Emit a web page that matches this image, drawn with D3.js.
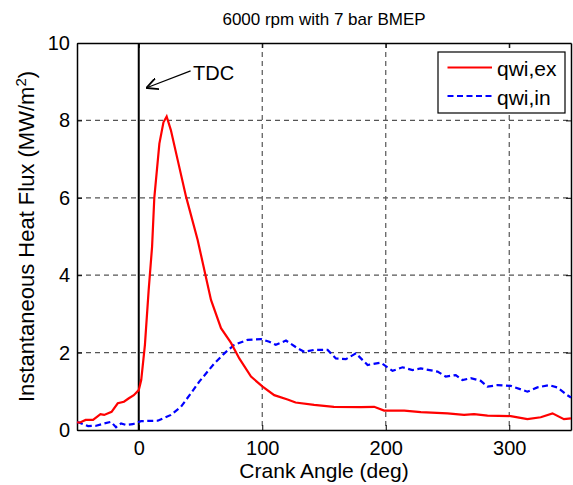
<!DOCTYPE html>
<html>
<head>
<meta charset="utf-8">
<script src="https://cdn.jsdelivr.net/npm/d3@7"></script>
<style>
  body { margin: 0; background: #fff; }
  .vis { width: 573px; height: 485px; }
  text { font-family: "Liberation Sans", Arial, Helvetica, sans-serif; fill: #000; }
</style>
</head>
<body>
<div class="vis"></div>
<script>
(function() {
  'use strict';

  // crank angle (deg) and heat flux (MW/m^2)
  var exAngle = [-50, -48, -43, -37, -31, -28, -22, -17, -12, -8, -4, 0, 2, 5, 8, 10.8, 12.6, 16.7, 20, 22.6, 26, 31.5, 38.3, 47.7, 58.5, 66.6, 74.7, 81.4, 90.9, 100.3, 109.7, 120.5, 127, 142, 158, 180, 190.6, 198.7, 215, 228.4, 250, 263.4, 271.5, 282.4, 301.2, 314.7, 325.5, 335, 344.3, 350];
  var exFlux = [0.2, 0.19, 0.26, 0.26, 0.41, 0.39, 0.47, 0.69, 0.73, 0.82, 0.9, 1.03, 1.29, 2.2, 3.6, 4.74, 6.0, 7.4, 7.95, 8.1, 7.75, 6.98, 6.03, 4.91, 3.36, 2.63, 2.25, 1.85, 1.38, 1.12, 0.9, 0.79, 0.71, 0.65, 0.6, 0.59, 0.6, 0.5, 0.5, 0.46, 0.43, 0.39, 0.41, 0.37, 0.36, 0.28, 0.33, 0.43, 0.28, 0.3];

  var inAngle = [-50, -48, -41, -34.5, -27.8, -22.4, -18.4, -14.3, -10.3, -4.9, 1.9, 15.4, 26.1, 34.2, 42.3, 49, 61.2, 69.3, 77.3, 88.2, 99, 105.7, 111, 119.2, 128.6, 134, 142, 152.9, 159.6, 167.7, 175.8, 185.3, 196, 205.5, 213.6, 221.7, 228.4, 241.9, 248.6, 256.7, 262.1, 268.8, 276.9, 282.4, 290.5, 301.2, 314.7, 322.8, 332.2, 339, 347, 350];
  var inFlux = [0.2, 0.19, 0.1, 0.11, 0.17, 0.21, 0.07, 0.17, 0.13, 0.15, 0.23, 0.24, 0.39, 0.6, 0.95, 1.25, 1.72, 1.98, 2.2, 2.33, 2.35, 2.28, 2.2, 2.31, 2.11, 2.02, 2.07, 2.07, 1.85, 1.83, 1.98, 1.68, 1.74, 1.53, 1.62, 1.55, 1.59, 1.51, 1.38, 1.42, 1.29, 1.34, 1.27, 1.12, 1.16, 1.14, 0.99, 1.1, 1.16, 1.1, 0.9, 0.84];

  var xTicks = [0, 100, 200, 300];
  var yTicks = [0, 2, 4, 6, 8, 10];
  var seriesNames = ['qwi,ex', 'qwi,in'];
  var tdcAngle = 0;

  var el = d3.select('.vis'),
    elWidth = 573,
    elHeight = 485,
    margin = {top: 43, right: 2, bottom: 55, left: 77},
    width = elWidth - margin.left - margin.right,
    height = elHeight - margin.top - margin.bottom;

  var svg = el.append('svg')
      .attr('width', elWidth)
      .attr('height', elHeight)
    .append('g')
      .attr('transform', 'translate(' + margin.left + ',' + margin.top + ')');

  var x = d3.scaleLinear().domain([-50, 350]).range([0, width]);
  var y = d3.scaleLinear().domain([0, 10]).range([height, 0]);

  // grid
  svg.selectAll('.gx')
    .data(xTicks.filter(function(d) { return d !== 0; }))
    .enter().append('line')
      .attr('x1', function(d) { return x(d); })
      .attr('x2', function(d) { return x(d); })
      .attr('y1', 0).attr('y2', height)
      .attr('stroke', '#555').attr('stroke-width', 1.2)
      .attr('stroke-dasharray', '5,4');
  svg.selectAll('.gy')
    .data(yTicks.filter(function(d) { return d !== 0 && d !== 10; }))
    .enter().append('line')
      .attr('x1', 0).attr('x2', width)
      .attr('y1', function(d) { return y(d); })
      .attr('y2', function(d) { return y(d); })
      .attr('stroke', '#555').attr('stroke-width', 1.2)
      .attr('stroke-dasharray', '5,4');

  // axes with inward ticks on all sides
  var fontSize = '20px';
  var bottom = svg.append('g').attr('transform', 'translate(0,' + height + ')')
    .call(d3.axisBottom(x).tickValues(xTicks).tickSizeInner(-5).tickSizeOuter(0).tickPadding(11));
  var left = svg.append('g')
    .call(d3.axisLeft(y).tickValues(yTicks).tickSizeInner(-5).tickSizeOuter(0).tickPadding(7));
  var top = svg.append('g')
    .call(d3.axisTop(x).tickValues(xTicks).tickSizeInner(-5).tickSizeOuter(0).tickFormat(''));
  var right = svg.append('g').attr('transform', 'translate(' + width + ',0)')
    .call(d3.axisRight(y).tickValues(yTicks).tickSizeInner(-5).tickSizeOuter(0).tickFormat(''));
  [bottom, left, top, right].forEach(function(a) {
    a.select('.domain').attr('stroke', '#000').attr('stroke-width', 1.5);
    a.selectAll('.tick line').attr('stroke', '#000');
    a.selectAll('.tick text').style('font-size', fontSize)
      .style('font-family', '"Liberation Sans", Arial, sans-serif');
  });

  // TDC line
  svg.append('line')
    .attr('x1', x(tdcAngle)).attr('x2', x(tdcAngle))
    .attr('y1', 0).attr('y2', height)
    .attr('stroke', '#000').attr('stroke-width', 2);

  var line = d3.line()
    .x(function(d) { return x(d[0]); })
    .y(function(d) { return y(d[1]); });

  svg.append('path')
    .datum(d3.zip(inAngle, inFlux))
    .attr('d', line)
    .attr('fill', 'none')
    .attr('stroke', '#0000ff')
    .attr('stroke-width', 2.2)
    .attr('stroke-dasharray', '6,3.5');

  svg.append('path')
    .datum(d3.zip(exAngle, exFlux))
    .attr('d', line)
    .attr('fill', 'none')
    .attr('stroke', '#ff0000')
    .attr('stroke-width', 2.2);

  // TDC annotation arrow
  var defs = svg.append('defs');
  defs.append('marker')
    .attr('id', 'arr')
    .attr('viewBox', '0 0 10 10')
    .attr('refX', 9).attr('refY', 5)
    .attr('markerWidth', 12).attr('markerHeight', 12)
    .attr('markerUnits', 'userSpaceOnUse')
    .attr('orient', 'auto')
    .append('path')
      .attr('d', 'M0,0 L10,5 L0,10')
      .attr('fill', 'none').attr('stroke', '#000').attr('stroke-width', 1.5);
  svg.append('line')
    .attr('x1', x(42)).attr('y1', y(9.28))
    .attr('x2', x(7)).attr('y2', y(8.85))
    .attr('stroke', '#000').attr('stroke-width', 1.2)
    .attr('marker-end', 'url(#arr)');
  svg.append('text')
    .attr('x', x(44)).attr('y', 37)
    .style('font-size', '20px')
    .text('TDC');

  // legend
  var lg = svg.append('g').attr('transform', 'translate(' + (438 - margin.left) + ',' + (52 - margin.top) + ')');
  lg.append('rect')
    .attr('width', 127).attr('height', 61)
    .attr('fill', '#fff').attr('stroke', '#000').attr('stroke-width', 1.2);
  var colors = ['#ff0000', '#0000ff'];
  var dashes = [null, '6,3.5'];
  seriesNames.forEach(function(name, i) {
    var ly = 15.5 + i * 28.5;
    lg.append('line')
      .attr('x1', 9.5).attr('x2', 54)
      .attr('y1', ly).attr('y2', ly)
      .attr('stroke', colors[i]).attr('stroke-width', 2.2)
      .attr('stroke-dasharray', dashes[i]);
    lg.append('text')
      .attr('x', 59).attr('y', ly + 8.5)
      .style('font-size', '21px')
      .text(name);
  });

  // title and axis labels
  svg.append('text')
    .attr('x', width / 2).attr('y', -18)
    .attr('text-anchor', 'middle')
    .style('font-size', '17px')
    .text('6000 rpm with 7 bar BMEP');

  svg.append('text')
    .attr('x', width / 2).attr('y', height + 48)
    .attr('text-anchor', 'middle')
    .style('font-size', '21px')
    .text('Crank Angle (deg)');

  var yl = svg.append('text')
    .attr('transform', 'translate(' + (-43) + ',' + (height / 2) + ') rotate(-90)')
    .attr('text-anchor', 'middle')
    .style('font-size', '22px');
  yl.append('tspan').text('Instantaneous Heat Flux (MW/m');
  yl.append('tspan').attr('dy', -8).style('font-size', '15px').text('2');
  yl.append('tspan').attr('dy', 8).text(')');
}());
</script>
</body>
</html>
